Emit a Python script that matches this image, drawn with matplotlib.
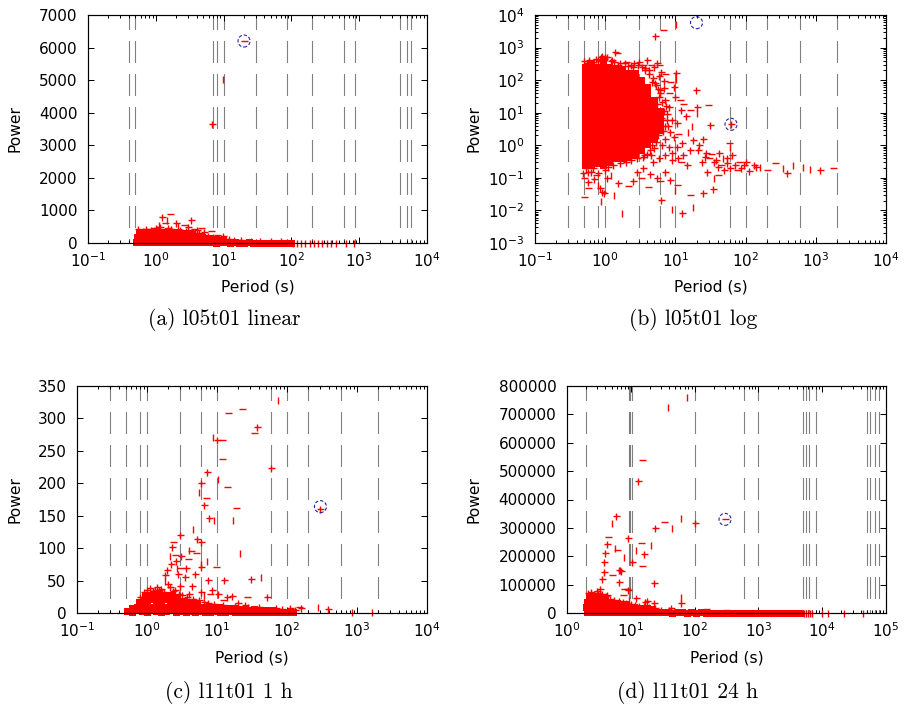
import numpy as np
import matplotlib
matplotlib.use("Agg")
import matplotlib.pyplot as plt
from matplotlib.ticker import LogLocator, NullFormatter, MultipleLocator, FuncFormatter

plt.rcParams['font.family'] = ['DejaVu Sans']
plt.rcParams['mathtext.fontset'] = 'dejavusans'
plt.rcParams['lines.scale_dashes'] = False

# ---------------------------------------------------------------------------
# Periods marked with dotted verticals
a_period_marks = [0.4, 0.5, 7, 8, 10, 30, 87, 200, 600, 870, 4000, 5000, 5800]
bc_period_marks = [0.3, 0.5, 0.8, 1, 3, 6, 10, 60, 100, 200, 600, 2000]
d_period_marks = [2, 9.4, 9.8, 10.3, 100, 600, 1000, 5000, 5600, 6300, 8000,
                  50000, 57000, 67000, 78000]

# ---------------------------------------------------------------------------
# (a) l05t01 linear
a_dense_period = [
    0.51, 0.6, 0.7, 0.82, 0.96, 1.13, 1.33, 1.56, 1.83, 2.15, 2.5, 2.95, 3.45,
    4.05, 4.75, 5.6, 6.55, 7.7, 9.0, 10.6, 12.4, 14.6, 17.1, 20, 23.5, 27.6,
    32.4, 38, 44.6, 52.4, 61.5, 72, 84.7, 99,
    0.53, 0.6, 0.68, 0.77, 0.87, 0.98, 1.1, 1.25, 1.41, 1.6, 1.8, 2.04, 2.3,
    2.6, 2.94, 3.3, 3.75, 4.25, 4.8, 5.4, 6.1,
    0.56, 0.66, 0.78, 0.92, 1.08, 1.28, 1.5, 1.77, 2.1, 2.45, 2.9, 3.4,
    6.9, 7.8, 8.8, 9.8,
]
a_dense_power = [
    30, 25, 40, 20, 35, 30, 25, 40, 30, 20, 35, 25, 30, 20, 25, 30, 20, 15, 25,
    20, 15, 20, 10, 15, 20, 10, 15, 10, 12, 8, 10, 12, 8, 10,
    190, 230, 210, 250, 220, 240, 200, 260, 230, 210, 250, 220, 200, 230, 190,
    210, 180, 200, 170, 160, 150,
    300, 330, 310, 350, 320, 340, 360, 330, 350, 310, 300, 280,
    120, 110, 100, 90,
]
a_plus_period = [1.25, 1.96, 2.27, 3.27, 4.0, 5.14, 9.7, 0.72, 1.05, 3.0, 12,
                 6.7, 0.55, 0.65, 0.85, 1.0, 1.15, 1.5, 1.7, 2.4, 2.8, 3.8,
                 4.3, 5.0, 5.8, 7.0, 8.5, 10.5, 14, 18, 25, 35, 50, 70]
a_plus_power = [808, 605, 400, 706, 400, 328, 225, 420, 430, 500, 130, 3640,
                420, 380, 400, 450, 480, 460, 430, 350, 380, 320, 300, 250,
                220, 170, 150, 110, 90, 80, 70, 60, 60, 50]
a_dash_period = [1.62, 0.94, 1.38, 2.6, 3.6, 6.45, 4.6, 8.0, 2.0, 15, 20, 0.75,
                 1.3, 3.2, 22, 40]
a_dash_power = [900, 470, 620, 560, 430, 378, 460, 240, 380, 100, 6200, 430,
                420, 390, 60, 50]
a_bar_period = [1.45, 1.1, 2.1, 9.9, 107, 120, 138, 158, 190, 212, 245, 280,
                330, 385, 455, 645, 830]
a_bar_power = [700, 560, 520, 5050, 0, 0, 0, 0, 0, 0, 0, 0, 0, 0, 0, 0, 0]
a_circle_period = [20]
a_circle_power = [6200]

# ---------------------------------------------------------------------------
# (b) l05t01 log
b_core_period = [0.51, 0.62, 0.76, 0.93, 1.15, 1.41, 1.74, 2.14, 2.63, 3.24,
                 3.98, 4.9, 6.0]
b_core_power = [
    [0.25, 0.4, 0.63, 1.0, 1.6, 2.5, 4.0, 6.3, 10, 16, 25, 40, 63, 100, 160, 250],
    [0.25, 0.4, 0.63, 1.0, 1.6, 2.5, 4.0, 6.3, 10, 16, 25, 40, 63, 100, 160, 250, 330],
    [0.28, 0.4, 0.63, 1.0, 1.6, 2.5, 4.0, 6.3, 10, 16, 25, 40, 63, 100, 160, 260],
    [0.25, 0.4, 0.63, 1.0, 1.6, 2.5, 4.0, 6.3, 10, 16, 25, 40, 63, 100, 160, 250, 380],
    [0.3, 0.4, 0.63, 1.0, 1.6, 2.5, 4.0, 6.3, 10, 16, 25, 40, 63, 100, 160, 250],
    [0.4, 0.63, 1.0, 1.6, 2.5, 4.0, 6.3, 10, 16, 25, 40, 63, 100, 160, 230],
    [0.4, 0.63, 1.0, 1.6, 2.5, 4.0, 6.3, 10, 16, 25, 40, 63, 100, 160, 220],
    [0.45, 0.63, 1.0, 1.6, 2.5, 4.0, 6.3, 10, 16, 25, 40, 63, 100, 160],
    [0.5, 0.7, 1.0, 1.6, 2.5, 4.0, 6.3, 10, 16, 25, 40, 63, 100, 160],
    [0.7, 1.0, 1.6, 2.5, 4.0, 6.3, 10, 16, 25, 40, 63, 100],
    [1.1, 1.6, 2.5, 4.0, 6.3, 10, 16, 25, 40, 63],
    [1.6, 2.5, 4.0, 6.3, 10, 16, 25],
    [3.0, 4.5, 7.0, 11],
]
b_plus_period = [
    0.55, 0.66, 0.8, 0.88, 1.0, 1.2, 1.38, 1.6, 2.3, 2.6, 3.06, 4.0, 5.0, 5.4,
    6.3, 10.2, 9.5, 6.8, 10, 12, 14, 19.5, 20, 31, 62, 5.07,
    4.8, 5.2, 5.6, 6.0, 5.5, 7.0, 7.5, 8.2, 6.5, 7.8, 9.0, 10.5, 8.5, 7.2, 9.6,
    6.4, 8.0, 5.0, 9.0, 10.5, 12.5, 7.0, 5.8, 4.8, 8.8, 11, 13, 14.5, 16, 18,
    22, 25, 27, 24, 35, 40, 50, 55, 60, 70, 85, 95, 110, 140, 55, 385, 1150,
    21, 26, 38, 42, 65, 100, 130,
    0.49, 0.575, 0.62, 0.7, 0.89, 0.95, 0.85, 1.05, 1.5, 2.45, 2.8, 3.5, 4.4,
    5.5, 6.2, 7.0, 8.4, 12.6, 24.5, 34, 28,
    0.5, 0.58, 0.7, 0.74, 0.84, 0.9, 0.97, 1.07, 1.25, 1.32, 1.5, 1.9, 2.1,
    2.5, 2.9, 3.3, 3.7, 4.2,
    0.53, 0.56, 0.68, 0.78, 1.0, 1.1, 1.3, 1.65, 1.95, 2.3, 2.8, 3.4, 4.0,
    4.3, 4.6, 5.3, 5.7, 6.6, 7.2, 6.2, 7.6, 6.9, 7.4, 6.4, 5.8, 6.1, 5.3,
    4.6, 4.2, 3.7, 5.8, 6.8, 4.45, 3.6,
]
b_plus_power = [
    330, 350, 420, 500, 520, 380, 740, 340, 300, 330, 360, 415, 260, 330,
    180, 170, 60, 56, 30, 12, 8, 50, 15.5, 4.2, 4.4, 2270,
    120, 80, 55, 40, 18, 25, 9, 15, 6, 4, 6, 5, 2.5, 1.6, 1.8,
    1.0, 0.9, 0.8, 0.6, 0.9, 1.2, 0.5, 0.4, 0.3, 0.35, 0.4, 0.5, 0.25, 0.7, 1.5,
    1.0, 1.6, 0.6, 0.3, 0.3, 0.22, 0.18, 0.28, 0.2, 0.25, 0.2, 0.24, 0.16, 0.22,
    0.4, 0.145, 0.18,
    0.7, 0.45, 0.35, 0.6, 0.5, 0.3, 0.25,
    0.14, 0.076, 0.15, 0.09, 0.038, 0.035, 0.05, 0.1, 0.07, 0.08, 0.15, 0.2,
    0.13, 0.1, 0.021, 0.15, 0.085, 0.0085, 0.035, 0.047, 0.15,
    400, 420, 300, 450, 380, 560, 450, 500, 420, 350, 300, 330, 280,
    260, 290, 250, 230, 200,
    0.2, 0.15, 0.2, 0.14, 0.18, 0.22, 0.25, 0.28, 0.3, 0.35, 0.4, 0.45, 0.55,
    0.7, 1.0, 1.3, 2.0, 2.8, 4.0, 7, 6, 11, 16, 22, 30, 50, 70,
    90, 150, 200, 130, 95, 0.5, 0.5,
]
b_dash_period = [1.45, 2.0, 3.4, 4.5, 5.9, 6.7, 7.0, 8.5, 8, 11.5, 13, 16, 29.4,
                 11, 12, 30, 45, 75, 58, 200, 263, 1780, 32, 80, 0.5, 0.5,
                 0.575, 0.75, 2.14, 3.2, 4.1, 6.0, 10.5, 16.2, 40]
b_dash_power = [700, 360, 300, 300, 300, 3470, 150, 89, 40, 25, 18, 12, 17,
                2.2, 0.3, 0.4, 0.25, 0.17, 1.2, 0.18, 0.28, 0.2, 0.55, 0.3, 0.1,
                0.025, 0.048, 0.12, 0.056, 0.1, 0.054, 0.08, 0.06, 0.03, 0.12]
b_bar_period = [10.2, 10.2, 20, 15, 17, 60, 48, 160, 345, 478, 665, 830, 0.8,
                0.88, 1.2, 1.35, 1.72, 8.85, 9.8, 18, 36]
b_bar_power = [5300, 110, 10, 2.5, 4, 0.9, 0.4, 0.22, 0.2, 0.25, 0.21, 0.19,
               0.06, 0.019, 0.12, 0.03, 0.0081, 0.011, 0.043, 0.0125, 0.1]
b_circle_period = [20, 62]
b_circle_power = [5800, 4.4]

# ---------------------------------------------------------------------------
# (c) l11t01 1 h
c_dense_period = [
    0.52, 0.61, 0.72, 0.84, 0.99, 1.16, 1.36, 1.6, 1.88, 2.2, 2.6, 3.0, 3.6,
    4.2, 4.9, 5.8, 6.8, 8.0, 9.4, 11, 13, 15.2, 17.9, 21, 24.6, 29, 34, 40, 47,
    55, 64, 76, 89, 104, 122,
    0.62, 0.72, 0.84, 0.99, 1.16, 1.36, 1.6, 1.88, 2.2, 2.6, 3.0, 3.6, 4.2,
    4.9, 5.8, 6.8, 8.0, 9.4, 11, 13, 15.2,
    17.9, 21, 24.6, 29, 34, 40, 47, 55, 64,
    0.76, 0.88, 1.02, 1.18, 1.37, 1.58, 1.83, 2.12, 2.45, 2.85, 3.3, 3.8, 4.4, 5.1,
    0.95, 1.1, 1.27, 1.47, 1.7, 1.97, 2.28, 2.64,
]
c_dense_power = [
    3, 2, 4, 3, 2, 4, 3, 2, 3, 4, 2, 3, 2, 3, 2, 3, 2, 2, 3, 2, 2, 3, 2, 1, 2,
    2, 1, 2, 1, 2, 1, 1, 2, 1, 1,
    8, 10, 11, 12, 10, 11, 12, 10, 11, 12, 10, 11, 10, 11, 9, 10, 9, 8, 9, 8, 7,
    7, 6, 6, 5, 6, 5, 5, 4, 4,
    17, 19, 21, 22, 20, 21, 22, 20, 21, 19, 18, 17, 16, 15,
    26, 28, 27, 29, 27, 28, 27, 25,
]
c_plus_period = [9.9, 37.7, 60, 7.1, 5.9, 6.5, 7.8, 2.96, 2.3, 5.13, 6.0, 3.06,
                 3.64, 1.91, 1.83, 5.97, 12.6, 30.2, 7.5, 4.35, 51.6, 16.6, 14,
                 300, 2.6, 2.2, 3.5, 4.8, 2.0, 8.5, 10.5, 20, 25, 40, 70, 85,
                 110, 130, 160, 390, 2.1, 2.5, 4.0, 6.0, 3.0, 1.5, 1.2, 2.8,
                 0.8, 0.9, 1.0, 1.1, 1.3, 1.4, 1.6, 1.75, 2.35, 2.9, 3.2, 3.7,
                 4.5, 5.5, 6.5, 7.5, 9, 12, 18, 28]
c_plus_power = [266, 287, 223, 218, 201, 166, 146, 120, 101, 114, 110, 88,
                69, 66, 58, 71, 51, 52, 51, 41, 24, 26, 24,
                160, 80, 75, 55, 60, 45, 35, 30, 15, 12, 10, 8, 6,
                7, 5, 8, 5.7, 40, 36, 30, 32, 42, 36, 34, 60,
                25, 32, 36, 38, 35, 40, 37, 33, 34, 30, 28, 25,
                22, 20, 17, 15, 14, 13, 11, 9]
c_dash_period = [23, 14.5, 33.8, 11.7, 11.7, 13.8, 6.9, 18.5, 2.38, 5.0, 3.9,
                 9.7, 27, 4.2, 2.5, 3.0, 8, 12, 150]
c_dash_power = [314, 308, 278, 266, 238, 194, 178, 162, 110, 93, 84, 71, 25,
                95, 90, 70, 30, 20, 9]
c_bar_period = [73.6, 8.85, 10.5, 5.53, 16.7, 9.06, 4.5, 4.0, 2.13, 7.1, 21.3,
                42, 6.6, 280, 840, 1660, 2.7, 6.0, 1.8]
c_bar_power = [329, 272, 206, 187, 143, 143, 129, 97, 88, 80, 93, 55, 28, 8.7,
               2, 1, 70, 75, 50]
c_circle_period = [300]
c_circle_power = [164]

# ---------------------------------------------------------------------------
# (d) l11t01 24 h
d_dense_period = [
    2.05, 2.4, 2.9, 3.4, 4.0, 4.8, 5.7, 6.7, 8.0, 9.5, 11.2, 13.3, 15.8, 18.8,
    22.4, 26.6, 31.6, 37.6, 44.7, 53, 63, 75, 89, 106, 126, 150, 178, 211, 251,
    299, 355, 422, 501, 596, 708, 841, 1000, 1190, 1410, 1680, 2000, 2370,
    2820, 3350, 3980, 4500,
    2.0, 2.35, 2.75, 3.2, 3.75, 4.4, 5.1, 6.0, 7.0, 8.2, 9.6, 11.2, 13.1,
    15.3, 17.9, 21,
    2.05, 2.4, 2.8, 3.25, 3.8, 4.45, 5.2, 6.1, 7.1, 8.3,
    2.2, 2.55, 2.95, 3.45, 4.0,
]
d_dense_power = [
    3000, 2500, 3500, 3000, 2000, 3000, 2500, 3000, 2000, 2500, 3000, 2000,
    2500, 2000, 3000, 2000, 2500, 2000, 1500, 2000, 2500, 1500, 2000, 1500,
    2000, 1500, 1000, 1500, 1000, 1500, 1000, 1000, 1500, 1000, 800, 1000,
    800, 1000, 600, 800, 600, 800, 500, 600, 500, 500,
    22000, 24000, 21000, 25000, 22000, 24000, 21000, 23000, 20000, 22000,
    19000, 20000, 18000, 17000, 16000, 15000,
    40000, 42000, 38000, 43000, 40000, 38000, 36000, 35000, 33000, 32000,
    57000, 60000, 55000, 58000, 50000,
]
d_plus_period = [12.8, 5.8, 4.2, 3.94, 3.8, 3.75, 6.5, 6.9, 3.57, 6.5, 8.9,
                 10.3, 16.3, 23.4, 23.9, 101, 61, 17.7, 16.7, 23.4, 3.3, 9.1,
                 12.1, 43, 3.1, 2.65, 4.2,
                 2.1, 2.4, 2.9, 3.5, 4.1, 4.8, 5.5, 6.5, 7.5, 8.5, 10, 11.5,
                 13.5, 16, 19, 24, 30, 40]
d_plus_power = [465000, 343000, 243000, 213000, 181000, 146000, 152000, 148000,
                119000, 110000, 265000, 181000, 208000, 105000, 300000, 318000,
                35000, 42000, 38000, 35000, 83000, 81000, 52000, 17000, 70000,
                68000, 62000,
                70000, 75000, 78000, 66000, 60000, 50000, 45000, 42000, 38000,
                36000, 30000, 28000, 26000, 24000, 22000, 18000, 12000, 10000]
d_dash_period = [15.1, 4.4, 6.0, 5.1, 8.6, 14.5, 14.8, 33.5, 300, 7.6, 7.8,
                 150, 310]
d_dash_power = [539000, 269000, 222000, 134000, 84000, 248000, 166000, 320000,
                330000, 63000, 86000, 14000, 10000]
d_bar_period = [76.9, 38.7, 7.9, 20.7, 11.9, 5.65, 6.8, 43.6, 61, 60.5, 5.0,
                9.5, 5200, 5600, 6000, 6500, 7000, 10000, 12500, 22000, 44000]
d_bar_power = [760000, 725000, 198000, 240000, 222000, 228000, 151000, 300000,
               334000, 57000, 318000, 45000, 0, 0, 0, 0, 0, 0, 0, 0, 0]
d_circle_period = [300]
d_circle_power = [330000]

# ---------------------------------------------------------------------------
W_PX, H_PX = 907, 710
RED = '#ff0000'
BLUE = '#23239a'
PX = 72.0 / 100.0          # one pixel in points at dpi=100
TICK_FS = 11.0

fig = plt.figure(figsize=(W_PX / 100, H_PX / 100), dpi=100)


def axes_px(left, top, right, bottom):
    return fig.add_axes([left / W_PX, 1 - bottom / H_PX,
                         (right - left) / W_PX, (bottom - top) / H_PX])


ax_a = axes_px(88, 15, 427, 243)
ax_b = axes_px(535, 15, 886, 243)
ax_c = axes_px(77, 386, 427, 613)
ax_d = axes_px(567, 386, 886, 613)

mark_style = dict(linestyle='none', color=RED, markersize=7 * PX,
                  markeredgewidth=1.4 * PX, clip_on=False, zorder=3)
dot_pattern = (7 * PX, [PX, PX] * 10 + [PX, 12 * PX])


def period_lines(ax, marks):
    for p in marks:
        ax.plot([p, p], [1, 0], transform=ax.get_xaxis_transform(),
                color='black', lw=1.1 * PX, linestyle=dot_pattern,
                zorder=1)


def dense(ax, period, power):
    ax.plot(period, power, linestyle='none', marker='s', color=RED,
            markersize=7 * PX, markeredgewidth=0, clip_on=False, zorder=2)


def scatter_marks(ax, plus, dash, bar):
    ax.plot(plus[0], plus[1], marker='+', **mark_style)
    ax.plot(dash[0], dash[1], marker='_', **mark_style)
    ax.plot(bar[0], bar[1], marker='|', **mark_style)


def circles(ax, period, power):
    ax.scatter(period, power, s=(12 * PX) ** 2, facecolors='none',
               edgecolors=BLUE, linewidths=1.1 * PX,
               linestyles=(0, (2.4, 1.4)), clip_on=False, zorder=4)


def style_axes(ax, xlim, ylim, ylog, ystep=None):
    ax.set_xscale('log')
    ax.set_xlim(*xlim)
    ax.xaxis.set_major_locator(LogLocator(base=10, numticks=20))
    ax.xaxis.set_minor_locator(LogLocator(base=10, subs=np.arange(2, 10),
                                          numticks=100))
    ax.xaxis.set_minor_formatter(NullFormatter())
    if ylog:
        ax.set_yscale('log')
        ax.set_ylim(*ylim)
        ax.yaxis.set_major_locator(LogLocator(base=10, numticks=20))
        ax.yaxis.set_minor_locator(LogLocator(base=10, subs=np.arange(2, 10),
                                              numticks=100))
        ax.yaxis.set_minor_formatter(NullFormatter())
    else:
        ax.set_ylim(*ylim)
        ax.yaxis.set_major_locator(MultipleLocator(ystep))
        ax.yaxis.set_major_formatter(FuncFormatter(lambda v, p: f"{v:.0f}"))
    ax.tick_params(which='both', direction='in', top=True, right=True,
                   width=1.0 * PX, colors='black', labelsize=TICK_FS)
    ax.tick_params(which='major', length=6 * PX)
    ax.tick_params(which='minor', length=3 * PX)
    ax.tick_params(axis='y', pad=7.6)
    ax.tick_params(axis='x', pad=6.0)
    for s in ax.spines.values():
        s.set_linewidth(1.2 * PX)
        s.set_zorder(5)
    ax.set_facecolor('white')


def labels(ax, xlab_px, ylab_px, left, right, top, bottom):
    ax.set_xlabel('Period (s)', fontsize=11.2, va='center')
    ax.xaxis.set_label_coords(0.5, -(xlab_px - bottom) / (bottom - top))
    ax.set_ylabel('Power', fontsize=11.2, va='center', ha='center')
    ax.yaxis.set_label_coords((ylab_px - left) / (right - left), 0.5)


# (a)
style_axes(ax_a, (0.1, 1e4), (0, 7000), False, 1000)
period_lines(ax_a, a_period_marks)
dense(ax_a, a_dense_period, a_dense_power)
scatter_marks(ax_a, (a_plus_period, a_plus_power), (a_dash_period, a_dash_power),
              (a_bar_period, a_bar_power))
circles(ax_a, a_circle_period, a_circle_power)
labels(ax_a, 287, 15, 88, 427, 15, 243)

# (b)
style_axes(ax_b, (0.1, 1e4), (1e-3, 1e4), True)
period_lines(ax_b, bc_period_marks)
for p, col in zip(b_core_period, b_core_power):
    dense(ax_b, [p] * len(col), col)
scatter_marks(ax_b, (b_plus_period, b_plus_power), (b_dash_period, b_dash_power),
              (b_bar_period, b_bar_power))
circles(ax_b, b_circle_period, b_circle_power)
labels(ax_b, 287, 473.5, 535, 886, 15, 243)

# (c)
style_axes(ax_c, (0.1, 1e4), (0, 350), False, 50)
period_lines(ax_c, bc_period_marks)
dense(ax_c, c_dense_period, c_dense_power)
scatter_marks(ax_c, (c_plus_period, c_plus_power), (c_dash_period, c_dash_power),
              (c_bar_period, c_bar_power))
circles(ax_c, c_circle_period, c_circle_power)
labels(ax_c, 658, 15, 77, 427, 386, 613)

# (d)
style_axes(ax_d, (1, 1e5), (0, 800000), False, 100000)
period_lines(ax_d, d_period_marks)
dense(ax_d, d_dense_period, d_dense_power)
scatter_marks(ax_d, (d_plus_period, d_plus_power), (d_dash_period, d_dash_power),
              (d_bar_period, d_bar_power))
circles(ax_d, d_circle_period, d_circle_power)
labels(ax_d, 658, 473.5, 567, 886, 386, 613)

# Sub-figure captions
captions = ['(a) l05t01 linear', '(b) l05t01 log', '(c) l11t01 1 h', '(d) l11t01 24 h']
caption_pos = [(224, 319), (693, 319), (229, 693), (688, 693)]
for text, (cx, cy) in zip(captions, caption_pos):
    fig.text(cx / W_PX, 1 - cy / H_PX, text, fontfamily='cmr10', fontsize=15.5,
             ha='center', va='center')

fig.savefig('out.png', dpi=100, facecolor='white')
